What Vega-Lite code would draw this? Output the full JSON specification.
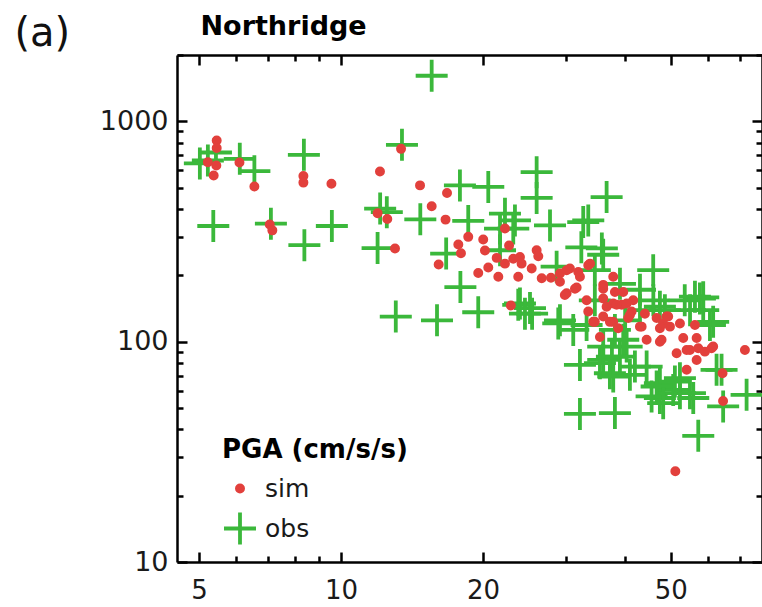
{
  "$schema": "https://vega.github.io/schema/vega-lite/v6.json",
  "autosize": {"type": "none"},
  "padding": {"left": 177, "top": 55, "right": 0, "bottom": 45},
  "width": 585,
  "height": 507,
  "background": "white",
  "config": {"font": "DejaVu Sans", "view": {"stroke": null}},
  "data": {"values": [
    {"dist": 15.56, "pga": 1610, "type": "obs"},
    {"dist": 5.43, "pga": 722, "type": "obs"},
    {"dist": 5.22, "pga": 664, "type": "obs"},
    {"dist": 5.02, "pga": 644, "type": "obs"},
    {"dist": 6.1, "pga": 676, "type": "obs"},
    {"dist": 6.55, "pga": 594, "type": "obs"},
    {"dist": 8.34, "pga": 705, "type": "obs"},
    {"dist": 5.36, "pga": 335, "type": "obs"},
    {"dist": 7.1, "pga": 343, "type": "obs"},
    {"dist": 8.36, "pga": 274, "type": "obs"},
    {"dist": 9.56, "pga": 335, "type": "obs"},
    {"dist": 12.1, "pga": 402, "type": "obs"},
    {"dist": 12.5, "pga": 387, "type": "obs"},
    {"dist": 11.95, "pga": 266, "type": "obs"},
    {"dist": 13.46, "pga": 782, "type": "obs"},
    {"dist": 14.72, "pga": 359, "type": "obs"},
    {"dist": 13.06, "pga": 130, "type": "obs"},
    {"dist": 15.97, "pga": 125, "type": "obs"},
    {"dist": 17.86, "pga": 512, "type": "obs"},
    {"dist": 20.51, "pga": 504, "type": "obs"},
    {"dist": 25.97, "pga": 588, "type": "obs"},
    {"dist": 25.97, "pga": 449, "type": "obs"},
    {"dist": 36.54, "pga": 453, "type": "obs"},
    {"dist": 18.6, "pga": 353, "type": "obs"},
    {"dist": 22.25, "pga": 381, "type": "obs"},
    {"dist": 23.36, "pga": 355, "type": "obs"},
    {"dist": 27.72, "pga": 337, "type": "obs"},
    {"dist": 32.6, "pga": 349, "type": "obs"},
    {"dist": 33.41, "pga": 355, "type": "obs"},
    {"dist": 16.7, "pga": 251, "type": "obs"},
    {"dist": 21.72, "pga": 260, "type": "obs"},
    {"dist": 23.17, "pga": 326, "type": "obs"},
    {"dist": 21.72, "pga": 326, "type": "obs"},
    {"dist": 17.9, "pga": 177, "type": "obs"},
    {"dist": 19.53, "pga": 136, "type": "obs"},
    {"dist": 23.94, "pga": 149, "type": "obs"},
    {"dist": 25.14, "pga": 142, "type": "obs"},
    {"dist": 23.74, "pga": 147, "type": "obs"},
    {"dist": 24.53, "pga": 134, "type": "obs"},
    {"dist": 25.4, "pga": 134, "type": "obs"},
    {"dist": 29.1, "pga": 125, "type": "obs"},
    {"dist": 28.86, "pga": 121, "type": "obs"},
    {"dist": 33.14, "pga": 119, "type": "obs"},
    {"dist": 32.3, "pga": 268, "type": "obs"},
    {"dist": 28.63, "pga": 219, "type": "obs"},
    {"dist": 35.7, "pga": 265, "type": "obs"},
    {"dist": 35.94, "pga": 248, "type": "obs"},
    {"dist": 45.87, "pga": 211, "type": "obs"},
    {"dist": 57.61, "pga": 157, "type": "obs"},
    {"dist": 58.55, "pga": 159, "type": "obs"},
    {"dist": 56.23, "pga": 160, "type": "obs"},
    {"dist": 61.46, "pga": 123, "type": "obs"},
    {"dist": 58.55, "pga": 139, "type": "obs"},
    {"dist": 48.56, "pga": 139, "type": "obs"},
    {"dist": 47.39, "pga": 144, "type": "obs"},
    {"dist": 31.05, "pga": 113, "type": "obs"},
    {"dist": 32.08, "pga": 78.4, "type": "obs"},
    {"dist": 32.08, "pga": 47, "type": "obs"},
    {"dist": 38.05, "pga": 47.4, "type": "obs"},
    {"dist": 40.29, "pga": 95, "type": "obs"},
    {"dist": 38.99, "pga": 85.5, "type": "obs"},
    {"dist": 35.94, "pga": 82.6, "type": "obs"},
    {"dist": 37.13, "pga": 71.9, "type": "obs"},
    {"dist": 40.94, "pga": 70.7, "type": "obs"},
    {"dist": 44.42, "pga": 77.1, "type": "obs"},
    {"dist": 47.39, "pga": 64.8, "type": "obs"},
    {"dist": 47.39, "pga": 55.5, "type": "obs"},
    {"dist": 50.57, "pga": 60.4, "type": "obs"},
    {"dist": 55.77, "pga": 55.5, "type": "obs"},
    {"dist": 52.26, "pga": 68.3, "type": "obs"},
    {"dist": 62.49, "pga": 74.5, "type": "obs"},
    {"dist": 64.53, "pga": 50.8, "type": "obs"},
    {"dist": 72.35, "pga": 57.4, "type": "obs"},
    {"dist": 57.15, "pga": 37.4, "type": "obs"},
    {"dist": 35.94, "pga": 95, "type": "obs"},
    {"dist": 39.63, "pga": 102, "type": "obs"},
    {"dist": 37.5, "pga": 85.5, "type": "obs"},
    {"dist": 35.37, "pga": 79.9, "type": "obs"},
    {"dist": 37.74, "pga": 69.4, "type": "obs"},
    {"dist": 41.95, "pga": 77.1, "type": "obs"},
    {"dist": 46.64, "pga": 62.6, "type": "obs"},
    {"dist": 50.99, "pga": 65.9, "type": "obs"},
    {"dist": 52.26, "pga": 58.4, "type": "obs"},
    {"dist": 45.51, "pga": 56.4, "type": "obs"},
    {"dist": 48.16, "pga": 52.6, "type": "obs"},
    {"dist": 54.88, "pga": 58.4, "type": "obs"},
    {"dist": 64.03, "pga": 74.5, "type": "obs"},
    {"dist": 34.5, "pga": 211, "type": "obs"},
    {"dist": 39.0, "pga": 183, "type": "obs"},
    {"dist": 43.0, "pga": 172, "type": "obs"},
    {"dist": 45.9, "pga": 154, "type": "obs"},
    {"dist": 53.5, "pga": 154, "type": "obs"},
    {"dist": 60.5, "pga": 119, "type": "obs"},
    {"dist": 54.9, "pga": 139, "type": "obs"},
    {"dist": 43.0, "pga": 139, "type": "obs"},
    {"dist": 34.5, "pga": 154, "type": "obs"},
    {"dist": 38.05, "pga": 113, "type": "obs"},
    {"dist": 40.0, "pga": 125, "type": "obs"},
    {"dist": 5.45, "pga": 818, "type": "sim"},
    {"dist": 5.45, "pga": 756, "type": "sim"},
    {"dist": 5.22, "pga": 652, "type": "sim"},
    {"dist": 5.44, "pga": 630, "type": "sim"},
    {"dist": 5.37, "pga": 568, "type": "sim"},
    {"dist": 6.09, "pga": 650, "type": "sim"},
    {"dist": 6.55, "pga": 506, "type": "sim"},
    {"dist": 8.32, "pga": 565, "type": "sim"},
    {"dist": 8.32, "pga": 527, "type": "sim"},
    {"dist": 9.54, "pga": 521, "type": "sim"},
    {"dist": 12.09, "pga": 592, "type": "sim"},
    {"dist": 13.4, "pga": 750, "type": "sim"},
    {"dist": 14.7, "pga": 512, "type": "sim"},
    {"dist": 15.56, "pga": 412, "type": "sim"},
    {"dist": 16.77, "pga": 473, "type": "sim"},
    {"dist": 16.65, "pga": 358, "type": "sim"},
    {"dist": 11.95, "pga": 383, "type": "sim"},
    {"dist": 12.53, "pga": 360, "type": "sim"},
    {"dist": 13.01, "pga": 265, "type": "sim"},
    {"dist": 16.1, "pga": 224, "type": "sim"},
    {"dist": 7.06, "pga": 340, "type": "sim"},
    {"dist": 7.15, "pga": 320, "type": "sim"},
    {"dist": 18.6, "pga": 299, "type": "sim"},
    {"dist": 17.72, "pga": 276, "type": "sim"},
    {"dist": 17.95, "pga": 252, "type": "sim"},
    {"dist": 20.01, "pga": 291, "type": "sim"},
    {"dist": 20.18, "pga": 259, "type": "sim"},
    {"dist": 22.25, "pga": 326, "type": "sim"},
    {"dist": 22.7, "pga": 273, "type": "sim"},
    {"dist": 21.37, "pga": 240, "type": "sim"},
    {"dist": 22.25, "pga": 226, "type": "sim"},
    {"dist": 23.17, "pga": 238, "type": "sim"},
    {"dist": 23.94, "pga": 242, "type": "sim"},
    {"dist": 24.13, "pga": 226, "type": "sim"},
    {"dist": 19.53, "pga": 205, "type": "sim"},
    {"dist": 20.51, "pga": 217, "type": "sim"},
    {"dist": 21.54, "pga": 197, "type": "sim"},
    {"dist": 23.74, "pga": 197, "type": "sim"},
    {"dist": 25.97, "pga": 260, "type": "sim"},
    {"dist": 26.18, "pga": 244, "type": "sim"},
    {"dist": 25.35, "pga": 215, "type": "sim"},
    {"dist": 26.62, "pga": 194, "type": "sim"},
    {"dist": 27.85, "pga": 195, "type": "sim"},
    {"dist": 29.1, "pga": 204, "type": "sim"},
    {"dist": 30.55, "pga": 215, "type": "sim"},
    {"dist": 31.82, "pga": 207, "type": "sim"},
    {"dist": 33.41, "pga": 222, "type": "sim"},
    {"dist": 29.1, "pga": 187, "type": "sim"},
    {"dist": 30.06, "pga": 166, "type": "sim"},
    {"dist": 31.31, "pga": 174, "type": "sim"},
    {"dist": 30.06, "pga": 211, "type": "sim"},
    {"dist": 31.57, "pga": 176, "type": "sim"},
    {"dist": 29.8, "pga": 163, "type": "sim"},
    {"dist": 33.14, "pga": 154, "type": "sim"},
    {"dist": 33.41, "pga": 137, "type": "sim"},
    {"dist": 34.23, "pga": 123, "type": "sim"},
    {"dist": 35.37, "pga": 105, "type": "sim"},
    {"dist": 22.9, "pga": 146, "type": "sim"},
    {"dist": 35.94, "pga": 181, "type": "sim"},
    {"dist": 37.74, "pga": 197, "type": "sim"},
    {"dist": 35.94, "pga": 157, "type": "sim"},
    {"dist": 38.05, "pga": 168, "type": "sim"},
    {"dist": 39.63, "pga": 168, "type": "sim"},
    {"dist": 37.74, "pga": 149, "type": "sim"},
    {"dist": 39.32, "pga": 147, "type": "sim"},
    {"dist": 41.6, "pga": 154, "type": "sim"},
    {"dist": 35.94, "pga": 130, "type": "sim"},
    {"dist": 37.74, "pga": 123, "type": "sim"},
    {"dist": 38.67, "pga": 115, "type": "sim"},
    {"dist": 40.61, "pga": 128, "type": "sim"},
    {"dist": 41.28, "pga": 137, "type": "sim"},
    {"dist": 43.35, "pga": 117, "type": "sim"},
    {"dist": 44.05, "pga": 134, "type": "sim"},
    {"dist": 44.42, "pga": 102, "type": "sim"},
    {"dist": 46.64, "pga": 128, "type": "sim"},
    {"dist": 47.39, "pga": 115, "type": "sim"},
    {"dist": 47.78, "pga": 102, "type": "sim"},
    {"dist": 48.96, "pga": 130, "type": "sim"},
    {"dist": 49.77, "pga": 117, "type": "sim"},
    {"dist": 52.26, "pga": 121, "type": "sim"},
    {"dist": 53.11, "pga": 104, "type": "sim"},
    {"dist": 51.42, "pga": 88.6, "type": "sim"},
    {"dist": 54.0, "pga": 74.5, "type": "sim"},
    {"dist": 56.23, "pga": 119, "type": "sim"},
    {"dist": 56.7, "pga": 104, "type": "sim"},
    {"dist": 57.15, "pga": 93.3, "type": "sim"},
    {"dist": 59.02, "pga": 90.1, "type": "sim"},
    {"dist": 61.46, "pga": 95, "type": "sim"},
    {"dist": 56.7, "pga": 82.6, "type": "sim"},
    {"dist": 54.0, "pga": 91.7, "type": "sim"},
    {"dist": 64.34, "pga": 71.9, "type": "sim"},
    {"dist": 64.5, "pga": 53.8, "type": "sim"},
    {"dist": 71.76, "pga": 91.7, "type": "sim"},
    {"dist": 51.1, "pga": 25.8, "type": "sim"},
    {"dist": 33.7, "pga": 226, "type": "sim"},
    {"dist": 36.54, "pga": 144, "type": "sim"},
    {"dist": 38.37, "pga": 147, "type": "sim"},
    {"dist": 40.29, "pga": 149, "type": "sim"},
    {"dist": 37.13, "pga": 123, "type": "sim"},
    {"dist": 40.94, "pga": 132, "type": "sim"},
    {"dist": 42.99, "pga": 117, "type": "sim"},
    {"dist": 48.16, "pga": 121, "type": "sim"},
    {"dist": 49.35, "pga": 130, "type": "sim"},
    {"dist": 47.39, "pga": 100, "type": "sim"},
    {"dist": 54.88, "pga": 91.7, "type": "sim"},
    {"dist": 60.98, "pga": 93.3, "type": "sim"},
    {"dist": 34.5, "pga": 123, "type": "sim"},
    {"dist": 32.08, "pga": 197, "type": "sim"},
    {"dist": 35.94, "pga": 174, "type": "sim"}
  ]},
  "layer": [
    {
      "mark": {"type": "point", "filled": true, "opacity": 1, "strokeWidth": 3.8},
      "encoding": {
        "x": {
          "field": "dist", "type": "quantitative",
          "scale": {"type": "log", "domain": [4.49, 78], "nice": false},
          "axis": {
            "orient": "bottom", "title": null, "grid": false,
            "values": [5, 6, 7, 8, 9, 10, 20, 30, 40, 50, 60, 70],
            "labelExpr": "indexof([5,10,20,50], datum.value) >= 0 ? '' + datum.value : ''",
            "tickSize": {"condition": {"test": "indexof([5,10,20,50], datum.value) >= 0", "value": -10}, "value": -6},
            "tickWidth": 2.5, "tickColor": "black",
            "domainColor": "black", "domainWidth": 2.5,
            "labelFontSize": 26, "labelColor": "#1a1a1a", "labelPadding": 25,
            "labelFlush": false, "labelOverlap": false
          }
        },
        "y": {
          "field": "pga", "type": "quantitative",
          "scale": {"type": "log", "domain": [10, 2000], "nice": false},
          "axis": {
            "orient": "left", "grid": false,
            "title": "(a)", "titleAngle": 0, "titleX": -163, "titleY": -10,
            "titleAlign": "left", "titleBaseline": "alphabetic",
            "titleFontSize": 40, "titleFontWeight": "normal", "titleColor": "#111111",
            "values": [10, 20, 30, 40, 50, 60, 70, 80, 90, 100, 200, 300, 400, 500, 600, 700, 800, 900, 1000, 2000],
            "labelExpr": "indexof([10,100,1000], datum.value) >= 0 ? '' + datum.value : ''",
            "tickSize": {"condition": {"test": "indexof([10,100,1000], datum.value) >= 0", "value": -10}, "value": -6},
            "tickWidth": 2.5, "tickColor": "black",
            "domainColor": "black", "domainWidth": 2.5,
            "labelFontSize": 27, "labelColor": "#1a1a1a", "labelPadding": 19,
            "labelFlush": false, "labelOverlap": false
          }
        },
        "shape": {
          "field": "type", "type": "nominal",
          "scale": {"domain": ["sim", "obs"], "range": ["circle", "M-1,0H1M0,-1V1"]},
          "legend": {
            "title": "PGA (cm/s/s)", "orient": "none", "legendX": 45, "legendY": 382,
            "titleFontSize": 26, "titleFontWeight": "bold", "titleColor": "black",
            "titleLimit": 500,
            "titlePadding": 13, "rowPadding": 2.5,
            "labelFontSize": 25, "labelColor": "#1a1a1a", "labelOffset": 7,
            "symbolStrokeWidth": 3.8
          }
        },
        "fill": {
          "field": "type", "type": "nominal",
          "scale": {"domain": ["sim", "obs"], "range": ["#e2403c", "transparent"]}
        },
        "stroke": {
          "field": "type", "type": "nominal",
          "scale": {"domain": ["sim", "obs"], "range": ["#e2403c", "#3bb83b"]}
        },
        "size": {
          "field": "type", "type": "nominal",
          "scale": {"domain": ["sim", "obs"], "range": [38, 1024]}
        }
      }
    },
    {
      "mark": {"type": "point", "opacity": 0},
      "encoding": {
        "x": {
          "field": "dist", "type": "quantitative",
          "axis": {
            "orient": "top", "title": "Northridge", "titleX": 23, "titleY": -21,
            "titleAlign": "left", "titleBaseline": "alphabetic", "titleAngle": 0,
            "titleFontSize": 27, "titleFontWeight": "bold", "titleColor": "black",
            "grid": false, "labels": false,
            "values": [5, 6, 7, 8, 9, 10, 20, 30, 40, 50, 60, 70],
            "tickSize": {"condition": {"test": "indexof([5,10,20,50], datum.value) >= 0", "value": -10}, "value": -6},
            "tickWidth": 2.5, "tickColor": "black",
            "domainColor": "black", "domainWidth": 2.5
          }
        },
        "y": {
          "field": "pga", "type": "quantitative",
          "axis": {
            "orient": "right", "title": null, "grid": false, "labels": false,
            "values": [10, 20, 30, 40, 50, 60, 70, 80, 90, 100, 200, 300, 400, 500, 600, 700, 800, 900, 1000, 2000],
            "tickSize": {"condition": {"test": "indexof([10,100,1000], datum.value) >= 0", "value": -10}, "value": -6},
            "tickWidth": 2.5, "tickColor": "black",
            "domainColor": "black", "domainWidth": 2.5
          }
        }
      }
    }
  ],
  "resolve": {"axis": {"x": "independent", "y": "independent"}}
}
